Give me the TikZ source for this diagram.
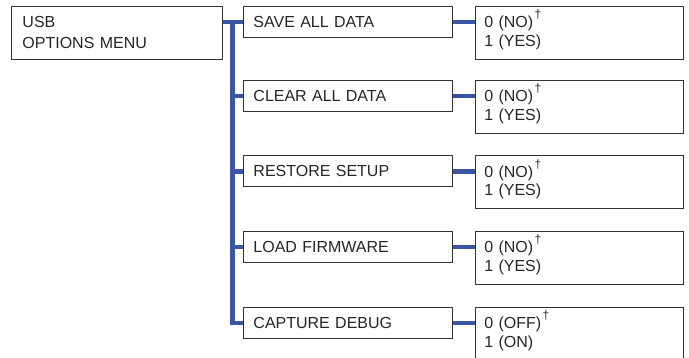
\documentclass[tikz,border=0pt]{standalone}
\usepackage{fontspec}
\setmainfont{Liberation Sans}
\usepackage{xcolor}
\definecolor{bus_blue}{HTML}{3A55A4}
\definecolor{box_grey}{HTML}{333333}
\usetikzlibrary{positioning,calc}
\newcommand{\dagmark}{\kern1.5pt\smash{\raisebox{9pt}{\fontsize{12}{12}\selectfont\textdagger}}}

\begin{document}
\begin{tikzpicture}[x=1pt,y=-1pt]
\tikzset{
    box/.style={rectangle,draw=box_grey,line width=0.9pt,anchor=north west,align=left,inner ysep=0pt,text=black!85},
    mainbox/.style={box,minimum height=53pt,inner xsep=11pt,text width=189pt,font=\fontsize{16}{21}\selectfont},
    menubox/.style={box,minimum height=31pt,inner xsep=10pt,text width=189pt,font=\fontsize{16}{21}\selectfont},
    valbox/.style={box,minimum height=53pt,inner xsep=9pt,text width=190pt,font=\fontsize{16}{18.3}\selectfont},
    bus/.style={draw=bus_blue,line width=4.6pt}
}
\useasboundingbox (0,0) rectangle (689,358);
  % boxes
\node[mainbox] (main) at (11,6) {USB\\OPTIONS MENU};
\node[menubox] (m1) at (243,6) {SAVE ALL DATA};
\node[menubox] (m2) at (243,80) {CLEAR ALL DATA};
\node[menubox] (m3) at (243,155.5) {RESTORE SETUP};
\node[menubox] (m4) at (243,231) {LOAD FIRMWARE};
\node[menubox] (m5) at (243,307) {CAPTURE DEBUG};
\node[valbox, right=22pt of m1.north east, anchor=north west] (v1) {0 (NO)\dagmark\\1 (YES)};
\node[valbox, right=22pt of m2.north east, anchor=north west] (v2) {0 (NO)\dagmark\\1 (YES)};
\node[valbox, right=22pt of m3.north east, anchor=north west] (v3) {0 (NO)\dagmark\\1 (YES)};
\node[valbox, right=22pt of m4.north east, anchor=north west] (v4) {0 (NO)\dagmark\\1 (YES)};
\node[valbox, right=22pt of m5.north east, anchor=north west] (v5) {0 (OFF)\dagmark\\1 (ON)};
% links
\coordinate (bustop) at ($(m1.west)+(-10.5,0)$);
\draw[bus] (main.east |- m1.west) -- (m1.west);
\draw[bus] (bustop) |- (m5.west);
\draw[bus] (bustop |- m2.west) -- (m2.west);
\draw[bus] (bustop |- m3.west) -- (m3.west);
\draw[bus] (bustop |- m4.west) -- (m4.west);
\draw[bus] (m1.east) -- (m1.east -| v1.west);
\draw[bus] (m2.east) -- (m2.east -| v2.west);
\draw[bus] (m3.east) -- (m3.east -| v3.west);
\draw[bus] (m4.east) -- (m4.east -| v4.west);
\draw[bus] (m5.east) -- (m5.east -| v5.west);
\end{tikzpicture}
\end{document}
